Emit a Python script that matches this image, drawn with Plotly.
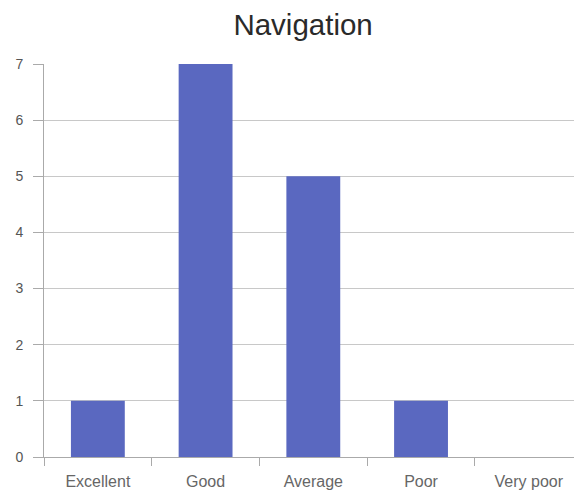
import plotly.graph_objects as go

categories = ["Excellent", "Good", "Average", "Poor", "Very poor"]
counts = [1, 7, 5, 1, 0]
y_ticks = [0, 1, 2, 3, 4, 5, 6, 7]

fig = go.Figure(
    go.Bar(
        x=categories,
        y=counts,
        marker=dict(color="#5a68c0", line=dict(width=0)),
        width=0.5,
    )
)

fig.update_layout(
    width=574,
    height=495,
    margin=dict(l=44, r=0, t=64, b=38),
    paper_bgcolor="white",
    plot_bgcolor="white",
    font=dict(family="Liberation Sans, Arial, sans-serif", color="#555555", size=14),
    title=dict(
        text="Navigation",
        x=0.528,
        xanchor="center",
        y=0.951,
        yanchor="middle",
        font=dict(size=29.5, color="#2a2a2a"),
    ),
    showlegend=False,
    bargap=0.5,
)

fig.update_xaxes(
    range=[-0.5, 4.42],
    tickson="boundaries",
    ticks="outside",
    ticklen=8,
    tickcolor="#aaaaaa",
    showline=True,
    linecolor="#aaaaaa",
    showgrid=False,
    ticklabelstandoff=10,
    tickfont=dict(size=16, color="#666666"),
)

fig.update_yaxes(
    range=[0, 7],
    tickvals=y_ticks,
    ticks="outside",
    ticklen=10,
    tickcolor="#aaaaaa",
    showline=True,
    linecolor="#aaaaaa",
    showgrid=True,
    gridcolor="#c8c8c8",
    zeroline=False,
    ticklabelstandoff=7,
    tickfont=dict(size=14, color="#555555"),
)

fig.write_html("out.html")
